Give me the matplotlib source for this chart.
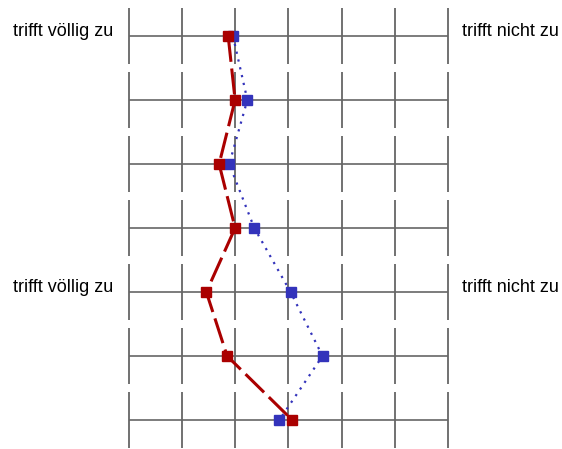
import matplotlib
matplotlib.use("Agg")
import matplotlib.pyplot as plt

# Skala 1..7, sieben Items
items = [1, 2, 3, 4, 5, 6, 7]
scale = [1, 2, 3, 4, 5, 6, 7]
gruppe_rot = [2.87, 3.0, 2.70, 3.0, 2.46, 2.85, 4.07]
gruppe_blau = [2.96, 3.23, 2.89, 3.36, 4.04, 4.64, 3.83]
label_links = "trifft völlig zu"
label_rechts = "trifft nicht zu"
label_rows = [1, 5]

plt.rcParams['font.family'] = ['Liberation Sans', 'DejaVu Sans']

fig = plt.figure(figsize=(5.62, 4.49), dpi=100)
ax = fig.add_axes([0, 0, 1, 1])
ax.set_xlim(-1.411, 9.133)
ax.set_ylim(7.453, 0.4375)
ax.axis("off")

grid_col = "#666666"
for r in items:
    ax.hlines(r, scale[0], scale[-1], color=grid_col, lw=1.2, zorder=1)
    ax.vlines(scale, r - 0.43, r + 0.43, color=grid_col, lw=1.3, zorder=1)

ax.plot(gruppe_blau, items, color="#3333bb", lw=1.6, linestyle=(0, (1, 2.6)),
        marker="s", markersize=6.8, zorder=3)
ax.plot(gruppe_rot, items, color="#aa0000", lw=2.2, linestyle=(0, (8.5, 2.2)),
        marker="s", markersize=6.8, zorder=4)

for r in label_rows:
    ax.annotate(label_links, (scale[0], r), xytext=(-11, 0), textcoords="offset points",
                ha="right", va="baseline", fontsize=13)
    ax.annotate(label_rechts, (scale[-1], r), xytext=(10, 0), textcoords="offset points",
                ha="left", va="baseline", fontsize=13)

fig.savefig("out.png", dpi=100)
